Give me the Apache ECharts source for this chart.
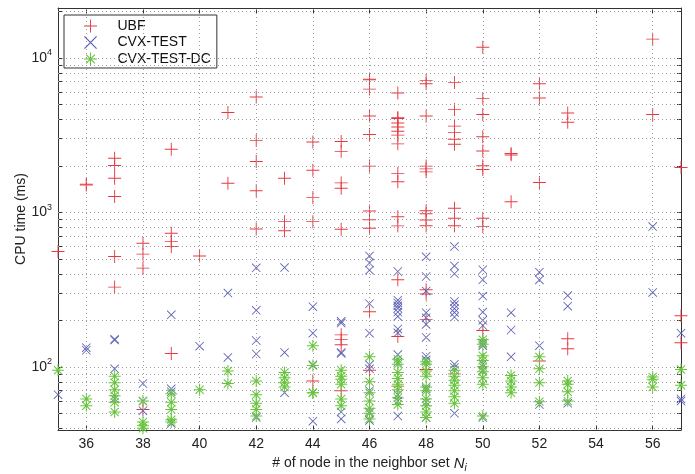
<!DOCTYPE html>
<html><head><meta charset="utf-8">
<script src="https://cdn.jsdelivr.net/npm/echarts@6/dist/echarts.min.js"></script>
<style>html,body{margin:0;padding:0;background:#fff}#c{width:695px;height:474px}</style>
</head><body><div id="c"></div>
<script>
// ---- data ----
const xTickValues = [36, 38, 40, 42, 44, 46, 48, 50, 52, 54, 56];
const yLabelValues = [100, 1000, 10000];
const yGridValues = [40, 50, 60, 70, 80, 90, 100, 200, 300, 400, 500, 600, 700, 800, 900,
  1000, 2000, 3000, 4000, 5000, 6000, 7000, 8000, 9000, 10000, 20000];

// [x, [y values...]]
const ubfPoints = [
  [35, [557]],
  [36, [1520, 1500]],
  [37, [2240, 2010, 1660, 1265, 517, 328]],
  [38, [631, 536, 435, 53]],
  [39, [2560, 732, 646, 600, 122]],
  [40, [522]],
  [41, [4420, 1540]],
  [42, [5570, 2910, 2130, 1380, 780]],
  [43, [1660, 870, 760]],
  [44, [2850, 1870, 1245, 870, 81]],
  [45, [2870, 2480, 1550, 1430, 776, 161, 150, 139, 70]],
  [46, [7280, 7200, 6270, 4200, 3185, 1990, 1019, 895, 789, 227, 95]],
  [47, [5910, 4100, 4050, 3785, 3567, 3347, 3157, 2773, 1786, 1575, 937, 817, 366, 157, 75]],
  [48, [7140, 6800, 4200, 1990, 1910, 1827, 1023, 979, 891, 819, 315, 296, 202, 96]],
  [49, [6930, 4620, 3610, 3280, 2970, 2760, 1061, 914, 819, 90]],
  [50, [11700, 5440, 4290, 3080, 2496, 2000, 1893, 914, 808, 172]],
  [51, [2400, 2350, 1170]],
  [52, [6800, 5490, 1560, 109]],
  [53, [4390, 3825, 152, 131]],
  [56, [13200, 4290]],
  [57, [1950, 214, 143]]
];

const cvxPoints = [
  [35, [66]],
  [36, [133, 128]],
  [37, [151, 149, 97, 62]],
  [38, [78, 60, 52]],
  [39, [217, 72, 69, 43]],
  [40, [136]],
  [41, [300, 115]],
  [42, [437, 232, 148, 121, 47]],
  [43, [439, 124, 68]],
  [44, [245, 165, 103, 44.5]],
  [45, [197, 192, 124, 122, 51, 46]],
  [46, [522, 470, 422, 256, 165, 103, 97, 70, 51, 45]],
  [47, [414, 270, 259, 248, 239, 226, 212, 176, 166, 120, 107, 66, 60, 48]],
  [48, [515, 384, 310, 224, 208, 188, 155, 117, 111, 72, 59, 47]],
  [49, [600, 450, 400, 265, 252, 238, 225, 210, 104, 99, 50]],
  [50, [425, 366, 287, 226, 200, 185, 143, 137, 104, 95, 47]],
  [51, [224, 173, 116]],
  [52, [410, 365, 137, 57]],
  [53, [289, 247, 58]],
  [56, [808, 303]],
  [57, [165, 62, 60]]
];

const cvxDcPoints = [
  [35, [95]],
  [36, [62, 56]],
  [37, [87, 79, 71, 65, 59, 51]],
  [38, [60, 44, 41.5, 40]],
  [39, [67, 59, 53, 45.5, 44]],
  [40, [71]],
  [41, [94, 78]],
  [42, [81, 66, 58, 53, 48]],
  [43, [92, 85, 79, 74]],
  [44, [137, 102, 68, 68]],
  [45, [95, 87, 83, 77, 62, 56]],
  [46, [116, 80, 68, 60, 54, 50, 46]],
  [47, [112, 104, 92, 84, 77, 71, 63, 57]],
  [48, [108, 104, 94, 87, 74, 70, 62, 56, 51, 47]],
  [49, [95, 87, 82, 76, 70, 64, 58]],
  [50, [150, 140, 118, 110, 100, 93, 85, 77, 48]],
  [51, [88, 81, 74, 68]],
  [52, [116, 97, 79, 59.5]],
  [53, [81, 77, 69, 60]],
  [56, [86, 83, 74]],
  [57, [96, 76]]
];

const seriesNames = ['UBF', 'CVX-TEST', 'CVX-TEST-DC'];

// ---- helpers / styles ----
function flatten(rows) {
  const out = [];
  rows.forEach(r => r[1].forEach(v => out.push([r[0], v])));
  return out;
}
const FONT = '"Liberation Sans", Arial, Helvetica, sans-serif';
const RED = '#e63a42', BLUE = '#5a60b4', GREEN = '#66c63a';
// thin filled marker outlines (plus, cross, asterisk)
const plusPath = 'path://M6.5,0L7.5,0L7.5,14L6.5,14Z M14,6.5L14,7.5L0,7.5L0,6.5Z';
const crossPath = 'path://M0.65,0L10,9.35L9.35,10L0,0.65Z M9.35,0L10,0.65L0.65,10L0,9.35Z';
const starPath = 'path://M4.58,0L5.42,0L5.42,10L4.58,10Z M10,4.58L10,5.42L0,5.42L0,4.58Z ' +
  'M1.9,1.3L8.7,8.1L8.1,8.7L1.3,1.9Z M8.1,1.3L8.7,1.9L1.9,8.7L1.3,8.1Z';

function mkSeries(name, rows, path, size, color) {
  return {
    name: name, type: 'scatter', xAxisIndex: 0, yAxisIndex: 0,
    data: flatten(rows), symbol: path, symbolSize: size,
    itemStyle: { color: color, borderWidth: 0, opacity: 1 },
    emphasis: { disabled: true }, silent: true
  };
}

const gridLineData = xTickValues.map(v => ({ xAxis: v })).concat(yGridValues.map(v => ({ yAxis: v })));

const axisLineStyle = { color: '#333', width: 1 };
const chart = echarts.init(document.getElementById('c'), null, { renderer: 'canvas' });
chart.setOption({
  animation: false,
  backgroundColor: '#fff',
  textStyle: { fontFamily: FONT },
  tooltip: { show: false },
  grid: { left: 58, right: 14, top: 8, bottom: 44, containLabel: false, outerBoundsMode: 'none' },
  legend: {
    data: [
      { name: 'UBF', icon: plusPath, itemStyle: { color: RED, borderWidth: 0 } },
      { name: 'CVX-TEST', icon: crossPath, itemStyle: { color: BLUE, borderWidth: 0 } },
      { name: 'CVX-TEST-DC', icon: starPath, itemStyle: { color: GREEN, borderWidth: 0 } }
    ],
    orient: 'vertical', left: 64, top: 15,
    itemWidth: 44, itemHeight: 13, itemGap: 2.5,
    padding: [4, 6, 2, 20],
    borderColor: '#333', borderWidth: 1, backgroundColor: '#fff',
    textStyle: { fontSize: 14, color: '#111', fontFamily: FONT },
    selectedMode: false
  },
  xAxis: [
    {
      type: 'value', min: 35, max: 57, position: 'bottom',
      axisLine: { show: true, lineStyle: axisLineStyle },
      axisTick: { show: true, inside: true, length: 5, customValues: xTickValues, lineStyle: axisLineStyle },
      axisLabel: { customValues: xTickValues, fontSize: 14, color: '#222', margin: 7, fontFamily: FONT },
      splitLine: { show: false },
      name: '# of node in the neighbor set {n|N}{i|i}',
      nameLocation: 'middle', nameGap: 24,
      nameTextStyle: {
        fontSize: 14, color: '#222', fontFamily: FONT,
        rich: {
          n: { fontSize: 15, fontStyle: 'italic', color: '#222', fontFamily: FONT },
          i: { fontSize: 10, fontStyle: 'italic', color: '#222', fontFamily: FONT, padding: [9, 0, 0, 0] }
        }
      }
    },
    {
      type: 'value', min: 35, max: 57, position: 'top',
      axisLine: { show: true, lineStyle: axisLineStyle },
      axisTick: { show: true, inside: true, length: 5, customValues: xTickValues, lineStyle: axisLineStyle },
      axisLabel: { show: false },
      splitLine: { show: false }
    }
  ],
  yAxis: [
    {
      type: 'log', logBase: 10, min: 39, max: 21000, position: 'left',
      axisLine: { show: true, lineStyle: axisLineStyle },
      axisTick: { show: true, inside: true, length: 4, customValues: yGridValues, lineStyle: axisLineStyle },
      axisLabel: {
        customValues: yLabelValues, fontSize: 14, color: '#222', margin: 6, fontFamily: FONT,
        formatter: function (v) { return '10{s|' + Math.round(Math.log10(v)) + '}'; },
        rich: { s: { fontSize: 9, color: '#222', fontFamily: FONT, padding: [0, 0, 10, 0] } }
      },
      splitLine: { show: false },
      name: 'CPU time (ms)', nameLocation: 'middle', nameGap: 30, nameRotate: 90,
      nameMoveOverlap: false,
      nameTextStyle: { fontSize: 14, color: '#222', fontFamily: FONT }
    },
    {
      type: 'log', logBase: 10, min: 39, max: 21000, position: 'right',
      axisLine: { show: true, lineStyle: axisLineStyle },
      axisTick: { show: true, inside: true, length: 4, customValues: yGridValues, lineStyle: axisLineStyle },
      axisLabel: { show: false },
      splitLine: { show: false }
    }
  ],
  series: [
    {
      name: 'grid', type: 'scatter', xAxisIndex: 0, yAxisIndex: 0, data: [], z: 1, silent: true,
      markLine: {
        silent: true, symbol: 'none', animation: false,
        label: { show: false },
        lineStyle: { type: [1, 3], color: '#9c9c9c', width: 1 },
        emphasis: { disabled: true },
        data: gridLineData
      }
    },
    mkSeries(seriesNames[0], ubfPoints, plusPath, 13, RED),
    mkSeries(seriesNames[1], cvxPoints, crossPath, 9, BLUE),
    mkSeries(seriesNames[2], cvxDcPoints, starPath, 12, GREEN)
  ]
});
</script>
</body></html>
